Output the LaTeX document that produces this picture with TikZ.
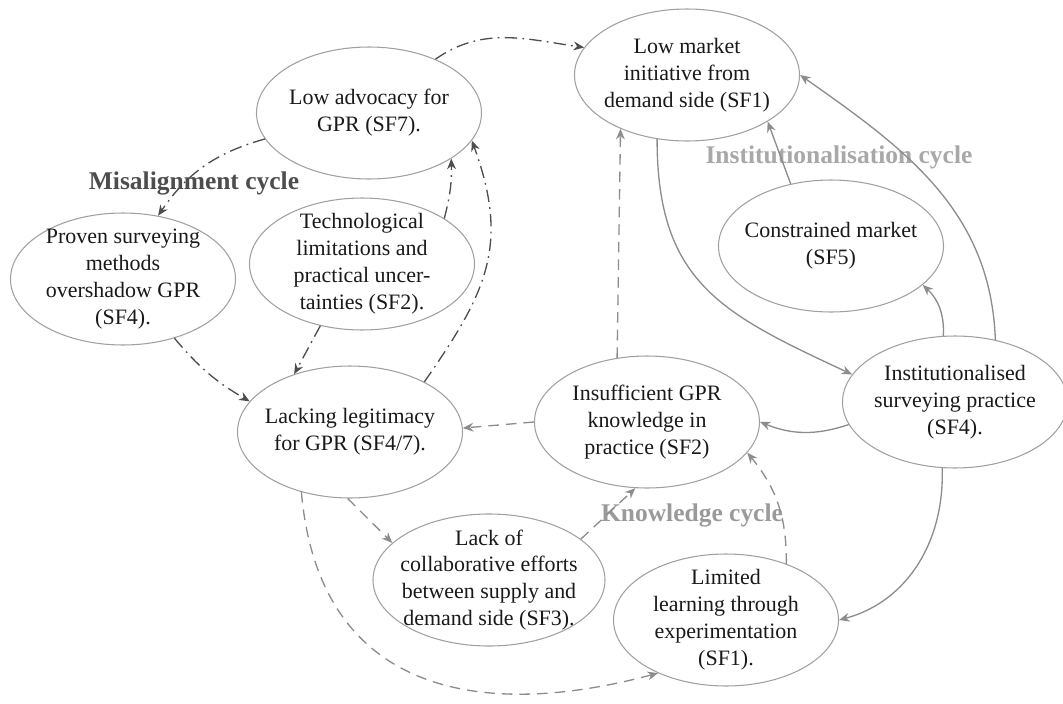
\documentclass[tikz,border=0pt]{standalone}
\usepackage{fontspec}
\setmainfont{Liberation Serif}
\usepackage{xcolor}
\usepackage{tikz}
\usetikzlibrary{shapes.geometric,arrows.meta}
\definecolor{EdgeGray}{HTML}{8C8C8C}
\definecolor{DarkGray}{HTML}{4D4D4D}
\definecolor{RimGray}{HTML}{A0A0A0}
\definecolor{PaleGray}{HTML}{A8A8A8}
\definecolor{MidGray}{HTML}{9A9A9A}
\def\cyclefont{\bfseries\fontsize{14.5}{17}\selectfont}

\tikzset{
  factor/.style={ellipse, draw=RimGray, line width=0.6pt, minimum width=4.5cm, minimum height=2.64cm,
    inner xsep=-15pt, inner ysep=-10pt, align=center, text=black!90, font=\fontsize{12.5}{15.3}\selectfont},
  misalignline/.style={-{Stealth[length=6pt,width=5pt]}, DarkGray, line width=0.75pt,
    dash pattern=on 7pt off 3pt on 1pt off 3pt},
  knowline/.style={-{Stealth[length=6pt,width=5pt]}, EdgeGray, line width=0.75pt,
    dash pattern=on 6pt off 4pt},
  instline/.style={-{Stealth[length=6pt,width=5pt]}, EdgeGray, line width=0.75pt}
}

\begin{document}
\begin{tikzpicture}
        \useasboundingbox (0,0) rectangle (21.26,-14.08);

        \node[factor] (sf1) at (13.74,-1.50) {Low market\\initiative from\\demand side (SF1)};
        \node[factor] (sf7) at (7.38,-2.26) {Low advocacy for\\GPR (SF7).};
        \node[factor] (proven) at (2.46,-5.58) {Proven surveying\\methods\\overshadow GPR\\(SF4).};
        \node[factor] (tech) at (7.24,-5.28) {Technological\\limitations and\\practical uncer-\\tainties (SF2).};
        \node[factor] (sf5) at (16.62,-4.92) {Constrained market\\(SF5)};
        \node[factor] (lacking) at (7.00,-8.64) {Lacking legitimacy\\for GPR (SF4/7).};
        \node[factor] (insuff) at (12.94,-8.44) {Insufficient GPR\\knowledge in\\practice (SF2)};
        \node[factor] (inst) at (19.10,-8.04) {Institutionalised\\surveying practice\\(SF4).};
        \node[factor, minimum width=4.64cm] (collab) at (9.78,-11.60) {Lack of\\collaborative efforts\\between supply and\\demand side (SF3).};
        \node[factor] (limited) at (14.52,-12.40) {Limited\\learning through\\experimentation\\(SF1).};

        \node[font=\cyclefont, text=DarkGray] (misalign) at (3.88,-3.66) {Misalignment cycle};
        \node[font=\cyclefont, text=PaleGray] (institution) at (16.78,-3.14) {Institutionalisation cycle};
        \node[font=\cyclefont, text=MidGray] (knowledge) at (13.84,-10.30) {Knowledge cycle};

        \draw[misalignline] (sf7.39) to[out=35,in=172] (sf1.165);
        \draw[misalignline] (sf7.194) to[bend right=20] (proven.61);
        \draw[misalignline] (tech.29) to[bend right=8] (sf7.331);
        \draw[misalignline] (lacking.34) to[out=55,in=-70,looseness=1.15] (sf7.345);
        \draw[misalignline] (tech.236) -- (lacking.134);
        \draw[misalignline] (proven.311) to[bend right=10] (lacking.163);

        \draw[knowline] (insuff.180) -- (lacking.2);
        \draw[knowline] (insuff.115) -- (sf1.219);
        \draw[knowline] (lacking.268) -- (collab.159);
        \draw[knowline] (lacking.231) to[out=-85,in=195,looseness=1.25] (limited.218);
        \draw[knowline] (collab.24) -- (insuff.260);
        \draw[knowline] (limited.43) to[bend right=20] (insuff.343);

        \draw[instline] (sf1.245) to[out=-90,in=155,looseness=1.2] (inst.165);
        \draw[instline] (inst.192) to[bend left=20] (insuff.0);
        \draw[instline] (inst.100) to[bend right=25] (sf5.337);
        \draw[instline] (sf5.123) -- (sf1.330);
        \draw[instline] (inst.57) to[out=92,in=-35] (sf1.0);
        \draw[instline] (inst.259) to[out=-88,in=15] (limited.0);
\end{tikzpicture}
\end{document}
